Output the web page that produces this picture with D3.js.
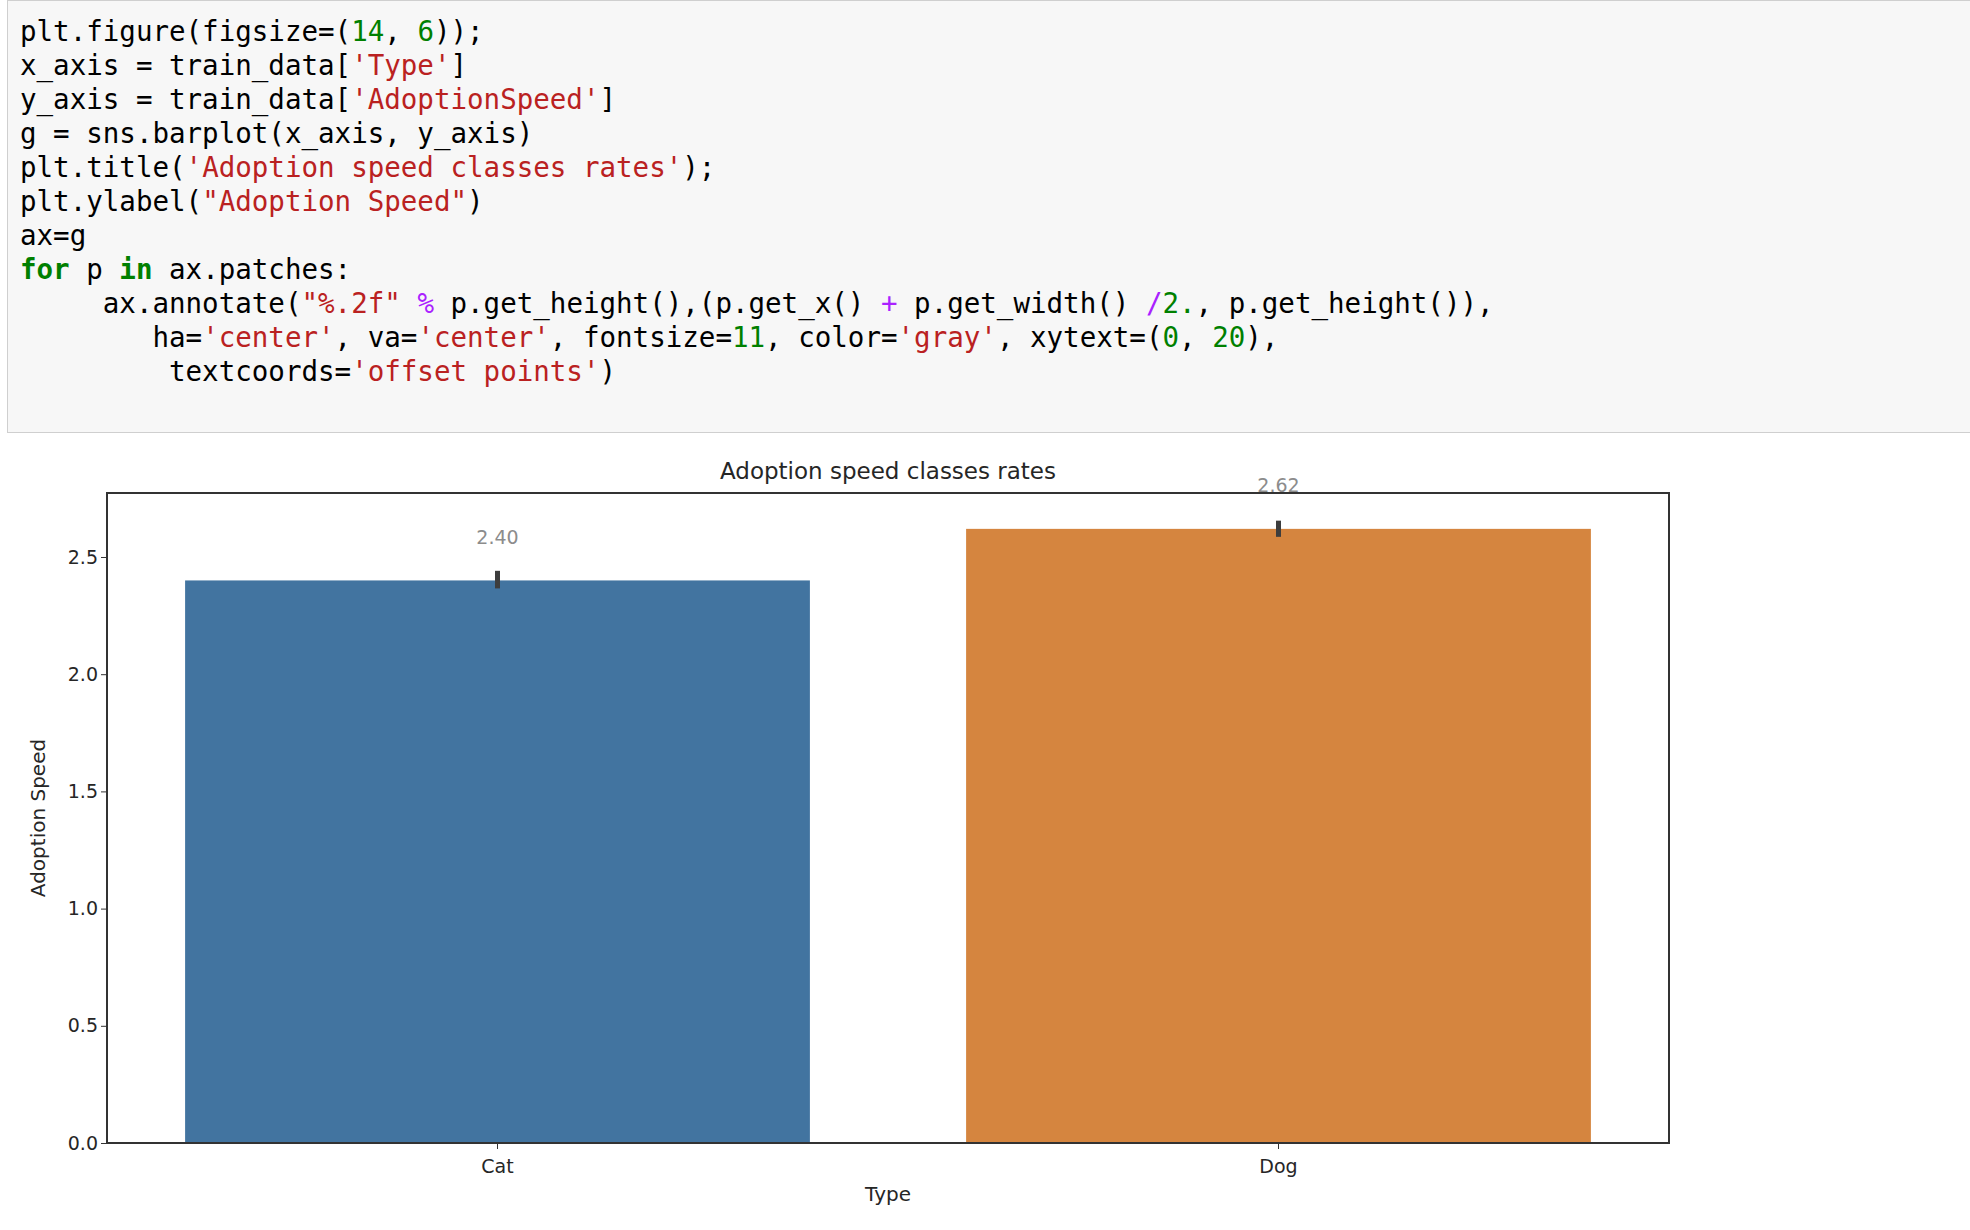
<!DOCTYPE html>
<html>
<head>
<meta charset="utf-8">
<script src="https://cdn.jsdelivr.net/npm/d3@7"></script>
<style>
  body { margin: 0; background: #fff; }
  svg text { font-family: "DejaVu Sans", sans-serif; }
  .code text { font-family: "DejaVu Sans Mono", monospace; font-size: 27.5px; }
</style>
</head>
<body>
<svg id="chart" width="1970" height="1230"></svg>
<script>
const categories = ['Cat', 'Dog']
const values = [2.40, 2.62]
const ciLow = [2.366, 2.586]
const ciHigh = [2.441, 2.655]
const colors = ['#4274a0', '#d5853f']
const yTicks = [0, 0.5, 1.0, 1.5, 2.0, 2.5]

// code cell tokens: [text, class]
const codeLines = [
  [['plt.figure(figsize=('], ['14', 'n'], [', '], ['6', 'n'], ['));']],
  [['x_axis = train_data['], ["'Type'", 's'], [']']],
  [['y_axis = train_data['], ["'AdoptionSpeed'", 's'], [']']],
  [['g = sns.barplot(x_axis, y_axis)']],
  [['plt.title('], ["'Adoption speed classes rates'", 's'], [');']],
  [['plt.ylabel('], ['"Adoption Speed"', 's'], [')']],
  [['ax=g']],
  [['for', 'k'], [' p '], ['in', 'k'], [' ax.patches:']],
  [['     ax.annotate('], ['"%.2f"', 's'], [' '], ['%', 'o'], [' p.get_height(),(p.get_x() '], ['+', 'o'], [' p.get_width() '], ['/', 'o'], ['2.', 'n'], [', p.get_height()),']],
  [['        ha='], ["'center'", 's'], [', va='], ["'center'", 's'], [', fontsize='], ['11', 'n'], [', color='], ["'gray'", 's'], [', xytext=('], ['0', 'n'], [', '], ['20', 'n'], ['),']],
  [['         textcoords='], ["'offset points'", 's'], [')']]
]
const tokenColor = {n: '#008000', s: '#ba2121', k: '#008000', o: '#aa22ff'}

const svg = d3.select('#chart')

// code cell
const code = svg.append('g').attr('class', 'code')
code.append('rect')
  .attr('x', 7.5).attr('y', 0.5).attr('width', 1990).attr('height', 432)
  .attr('fill', '#f7f7f7').attr('stroke', '#cfcfcf')
codeLines.forEach((line, i) => {
  const t = code.append('text').attr('x', 20).attr('y', 41 + i * 34).attr('xml:space', 'preserve')
  line.forEach(([txt, cls]) => {
    t.append('tspan').text(txt)
      .attr('fill', cls ? tokenColor[cls] : '#000')
      .attr('font-weight', cls === 'k' ? 'bold' : null)
  })
})

// chart
const margin = {left: 107, right: 1669, top: 493, bottom: 1143}
const x = d3.scaleBand().domain(categories).range([margin.left, margin.right]).paddingInner(0.2).paddingOuter(0.1)
const y = d3.scaleLinear().domain([0, 2.773]).range([margin.bottom, margin.top])

const g = svg.append('g')
g.selectAll('rect.bar').data(categories).join('rect')
  .attr('class', 'bar')
  .attr('x', d => x(d)).attr('width', x.bandwidth())
  .attr('y', (d, i) => y(values[i])).attr('height', (d, i) => y(0) - y(values[i]))
  .attr('fill', (d, i) => colors[i])

g.selectAll('line.err').data(categories).join('line')
  .attr('x1', d => x(d) + x.bandwidth() / 2).attr('x2', d => x(d) + x.bandwidth() / 2)
  .attr('y1', (d, i) => y(ciLow[i])).attr('y2', (d, i) => y(ciHigh[i]))
  .attr('stroke', '#3d3d3d').attr('stroke-width', 5)

g.selectAll('text.val').data(categories).join('text')
  .attr('x', d => x(d) + x.bandwidth() / 2)
  .attr('y', (d, i) => y(values[i]) - 42)
  .attr('text-anchor', 'middle').attr('dominant-baseline', 'middle')
  .attr('fill', '#8c8c8c').attr('font-size', 19)
  .text((d, i) => values[i].toFixed(2))

const yAxis = g.append('g').attr('transform', `translate(${margin.left},0)`)
  .call(d3.axisLeft(y).tickValues(yTicks).tickFormat(d3.format('.1f')).tickSize(6).tickSizeOuter(0))
const xAxis = g.append('g').attr('transform', `translate(0,${margin.bottom})`)
  .call(d3.axisBottom(x).tickSize(6).tickSizeOuter(0))
;[yAxis, xAxis].forEach(a => {
  a.select('.domain').remove()
  a.selectAll('text').attr('font-size', 19).attr('fill', '#262626').attr('font-family', '"DejaVu Sans", sans-serif')
  a.selectAll('line').attr('stroke', '#333')
})
xAxis.selectAll('text').attr('dy', '1.1em')

g.append('rect')
  .attr('x', margin.left).attr('y', margin.top)
  .attr('width', margin.right - margin.left).attr('height', margin.bottom - margin.top)
  .attr('fill', 'none').attr('stroke', '#333').attr('stroke-width', 2)

g.append('text').attr('x', (margin.left + margin.right) / 2).attr('y', 479)
  .attr('text-anchor', 'middle').attr('font-size', 23).attr('fill', '#262626')
  .text('Adoption speed classes rates')
g.append('text').attr('x', (margin.left + margin.right) / 2).attr('y', 1201)
  .attr('text-anchor', 'middle').attr('font-size', 20).attr('fill', '#262626')
  .text('Type')
g.append('text').attr('transform', `translate(45,${(margin.top + margin.bottom) / 2}) rotate(-90)`)
  .attr('text-anchor', 'middle').attr('font-size', 20).attr('fill', '#262626')
  .text('Adoption Speed')
</script>
</body>
</html>
